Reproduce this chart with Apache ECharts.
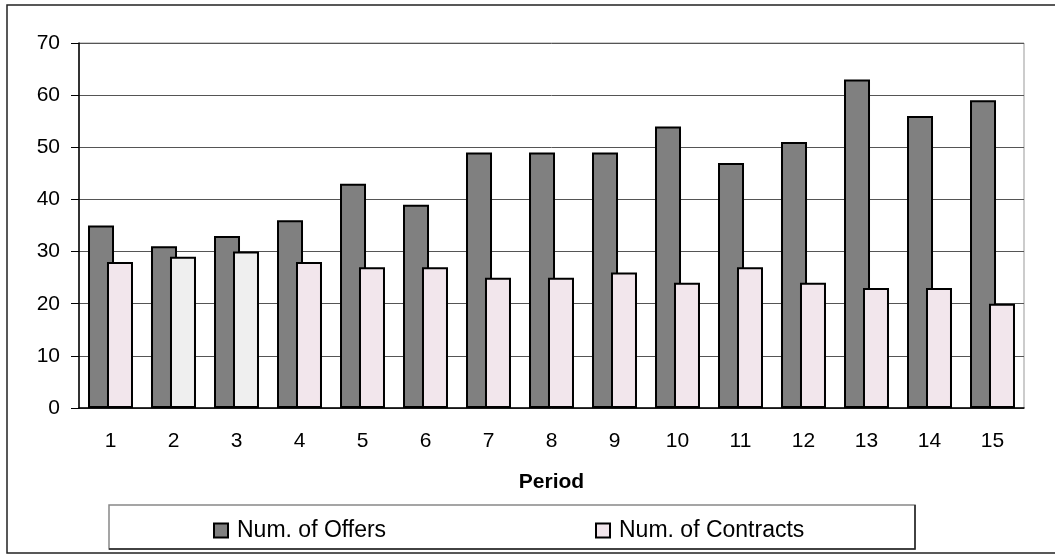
<!DOCTYPE html>
<html>
<head>
<meta charset="UTF-8" />
<script type="text/javascript" src="https://cdn.jsdelivr.net/npm/echarts@6/dist/echarts.min.js"></script>
<title>Offers and Contracts</title>
<style>
	html, body { margin: 0; padding: 0; background: #fff; }
	#main { width: 1055px; height: 560px; }
</style>
</head>
<body>
	<div id="main"></div>
<script type="text/javascript">
	// data
	var periods = ['1','2','3','4','5','6','7','8','9','10','11','12','13','14','15']
	var offers = [35, 31, 33, 36, 43, 39, 49, 49, 49, 54, 47, 51, 63, 56, 59]
	var contracts = [28, 29, 30, 28, 27, 27, 25, 25, 26, 24, 27, 24, 23, 23, 20]
	// periods 2 and 3 are drawn in a lighter grey
	var greyPeriods = ['2', '3']

	var font = 'Liberation Sans'

	var contractData = []
	for (var i in contracts) {
		var item = { value: contracts[i] }
		if (greyPeriods.indexOf(periods[i]) >= 0) {
			item.itemStyle = { color: '#efefef' }
		}
		contractData.push(item)
	}

	var option = {
		animation: false,
		backgroundColor: '#fff',
		textStyle: { fontFamily: font },
		grid: {
			left: 79, right: 31, top: 43, bottom: 152,
			show: true, borderColor: '#999', borderWidth: 1
		},
		legend: [{
			left: 208, top: 514,
			icon: 'rect',
			itemWidth: 14, itemHeight: 14,
			data: ['Num. of Offers'],
			textStyle: { fontFamily: font, fontSize: 23, color: '#000', padding: [0, 0, 0, 4] }
		}, {
			left: 590, top: 514,
			icon: 'rect',
			itemWidth: 14, itemHeight: 14,
			data: ['Num. of Contracts'],
			textStyle: { fontFamily: font, fontSize: 23, color: '#000', padding: [0, 0, 0, 4] }
		}],
		xAxis: {
			type: 'category',
			data: periods,
			name: 'Period',
			nameLocation: 'middle',
			nameGap: 64,
			nameTextStyle: { fontFamily: font, fontSize: 21, fontWeight: 'bold', color: '#000' },
			axisLine: { lineStyle: { color: '#000', width: 1.5 } },
			axisTick: { length: 6, lineStyle: { color: '#000' } },
			axisLabel: { margin: 23, fontSize: 21, color: '#000', fontFamily: font }
		},
		yAxis: {
			type: 'value',
			min: 0, max: 70, interval: 10,
			axisLine: { show: true, lineStyle: { color: '#000', width: 1.5 } },
			axisTick: { show: true, length: 8, lineStyle: { color: '#000' } },
			axisLabel: { margin: 19, fontSize: 21, color: '#000', fontFamily: font },
			splitLine: { lineStyle: { color: '#555', width: 1 } }
		},
		series: [{
			name: 'Num. of Offers',
			type: 'bar',
			data: offers,
			barWidth: 26,
			barGap: '-27%',
			itemStyle: { color: '#808080', borderColor: '#000', borderWidth: 2 }
		}, {
			name: 'Num. of Contracts',
			type: 'bar',
			data: contractData,
			barWidth: 26,
			itemStyle: { color: '#f2e6ec', borderColor: '#000', borderWidth: 2 }
		}],
		graphic: [{
			type: 'rect',
			shape: { x: 7, y: 5, width: 1060, height: 548 },
			style: { fill: 'none', stroke: '#222', lineWidth: 1.5 },
			silent: true
		}, {
			type: 'rect',
			shape: { x: 109, y: 505, width: 806, height: 44 },
			style: { fill: 'none', stroke: '#888', lineWidth: 1.5 },
			silent: true
		}, {
			type: 'polyline',
			shape: { points: [[109, 549], [915, 549], [915, 505]] },
			style: { fill: 'none', stroke: '#222', lineWidth: 1.5 },
			silent: true
		}]
	}

	var myChart = echarts.init(document.getElementById('main'))
	myChart.setOption(option)
</script>
</body>
</html>
